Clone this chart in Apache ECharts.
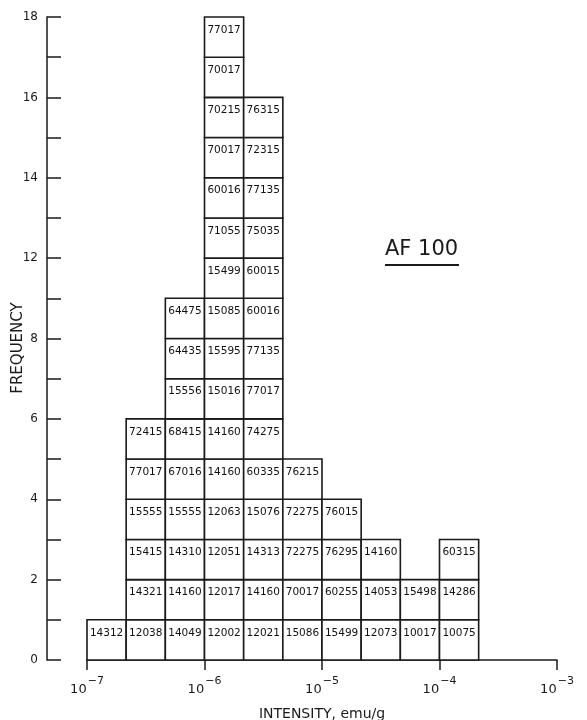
<!DOCTYPE html>
<html>
<head>
<meta charset="utf-8">
<script src="https://cdn.jsdelivr.net/npm/echarts@6/dist/echarts.min.js"></script>
<style>html,body{margin:0;padding:0;background:#fff;}#c{width:587px;height:720px;}</style>
</head>
<body>
<div id="c"></div>
<script>
// Bin lower edges (log10 of intensity, emu/g), 1/3-decade bins
const binLo = [-7, -20/3, -19/3, -6, -17/3, -16/3, -5, -14/3, -13/3, -4];
const binHi = [-20/3, -19/3, -6, -17/3, -16/3, -5, -14/3, -13/3, -4, -11/3];
// Sample numbers stacked in each bin, bottom to top
const bin0 = ['14312'];
const bin1 = ['12038','14321','15415','15555','77017','72415'];
const bin2 = ['14049','14160','14310','15555','67016','68415','15556','64435','64475'];
const bin3 = ['12002','12017','12051','12063','14160','14160','15016','15595','15085','15499','71055','60016','70017','70215','70017','77017'];
const bin4 = ['12021','14160','14313','15076','60335','74275','77017','77135','60016','60015','75035','77135','72315','76315'];
const bin5 = ['15086','70017','72275','72275','76215'];
const bin6 = ['15499','60255','76295','76015'];
const bin7 = ['12073','14053','14160'];
const bin8 = ['10017','15498'];
const bin9 = ['10075','14286','60315'];
const bins = [bin0, bin1, bin2, bin3, bin4, bin5, bin6, bin7, bin8, bin9];
// Tick labels as printed on the original figure
const yTickLabels = {0:'0', 2:'2', 4:'4', 6:'6', 8:'8', 10:'12', 12:'14', 14:'16', 16:'18'};
const xDecades = [-7, -6, -5, -4, -3];

const cells = [];
bins.forEach((col, b) => col.forEach((name, r) => cells.push([binLo[b], r, binHi[b], r + 1, name])));

const FONT = '"DejaVu Sans", sans-serif';
const ink = '#1a1a1a';
const chart = echarts.init(document.getElementById('c'));
chart.setOption({
  animation: false,
  backgroundColor: '#fff',
  grid: { left: 87, right: 30, top: 17, bottom: 60, outerBoundsMode: 'none', containLabel: false },
  xAxis: {
    type: 'value', min: -7, max: -3, interval: 1,
    name: 'INTENSITY, emu/g', nameLocation: 'middle', nameGap: 47,
    nameTextStyle: { fontFamily: FONT, fontSize: 14, color: ink },
    axisLine: { lineStyle: { color: ink, width: 1.5 } },
    axisTick: { show: true, length: 10, lineStyle: { color: ink, width: 1.5 } },
    splitLine: { show: false },
    axisLabel: {
      margin: 16,
      formatter: v => xDecades.indexOf(v) >= 0 ? '{b|10}{s|−' + (-v) + '}' : '',
      rich: {
        b: { fontFamily: FONT, fontSize: 13, color: ink, verticalAlign: 'bottom', lineHeight: 20 },
        s: { fontFamily: FONT, fontSize: 11, color: ink, verticalAlign: 'top', lineHeight: 20, padding: [0, 0, 8, 1] }
      }
    }
  },
  yAxis: {
    type: 'value', min: 0, max: 16, interval: 1, offset: 40,
    axisLine: { show: true, lineStyle: { color: ink, width: 1.5 } },
    axisTick: { show: true, inside: true, length: 14, lineStyle: { color: ink, width: 1.5 } },
    splitLine: { show: false },
    axisLabel: {
      margin: 9, fontFamily: FONT, fontSize: 12, color: ink,
      formatter: v => (yTickLabels[v] !== undefined ? yTickLabels[v] : '')
    }
  },
  series: [{
    type: 'custom',
    data: cells,
    encode: { x: [0, 2], y: [1, 3] },
    renderItem: function (params, api) {
      const p0 = api.coord([api.value(0), api.value(1)]);
      const p1 = api.coord([api.value(2), api.value(3)]);
      const x = p0[0], y = p1[1], w = p1[0] - p0[0], h = p0[1] - p1[1];
      return {
        type: 'group',
        children: [
          { type: 'rect', shape: { x: x, y: y, width: w, height: h },
            style: { fill: '#fff', stroke: ink, lineWidth: 1.6 } },
          { type: 'text', style: { x: x + w / 2, y: y + 13, text: api.value(4),
            fontFamily: FONT, fontSize: 10.5, fill: '#111', align: 'center', verticalAlign: 'middle' } }
        ]
      };
    }
  }],
  graphic: [
    { type: 'text', x: 18, y: 348, rotation: Math.PI / 2,
      style: { text: 'FREQUENCY', fontFamily: FONT, fontSize: 15, fill: ink, align: 'center', verticalAlign: 'middle' } },
    { type: 'text', left: 385, top: 239, style: { text: 'AF 100', fontFamily: FONT, fontSize: 21, fill: ink } },
    { type: 'line', shape: { x1: 385, y1: 265, x2: 459, y2: 265 }, style: { stroke: ink, lineWidth: 2.2 } }
  ]
});
</script>
</body>
</html>
